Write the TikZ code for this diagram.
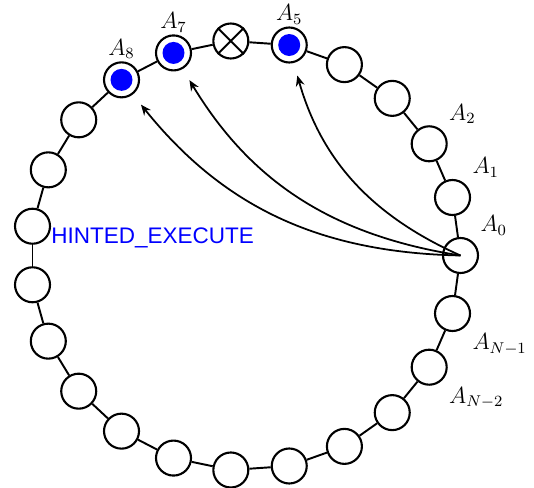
\documentclass[tikz,border=0pt]{standalone}
\usepackage{fontspec}
\newfontfamily\hintfont{Liberation Sans}
\usepackage{tikz}
\usetikzlibrary{arrows.meta, positioning, calc}
\definecolor{mBlue}{RGB}{0,0,255}

\tikzset{
  slot/.style={draw, circle, fill=white, line width=1.2pt, minimum size=0.7cm, inner sep=0pt},
  dot/.style={circle, fill=mBlue, minimum size=0.44cm, inner sep=0pt},
  link/.style={line width=1.1pt},
  jump/.style={-{Stealth[length=6pt, width=5pt]}, line width=1pt, shorten >=0.26cm},
  lab/.style={font=\large, scale=1.11},
  hint/.style={text=mBlue, inner sep=0pt, font=\hintfont\fontsize{12.8}{15}\selectfont}
}

\begin{document}
\begin{tikzpicture}
    \useasboundingbox (-4.91,-4.65) rectangle (5.77,5.11);
    % the ring of slots
    \foreach \i in {0,...,22}
      \node[slot] (p\i) at ({\i*360/23}:4.3) {};
    \foreach \i in {0,...,22} {
      \pgfmathtruncatemacro{\j}{mod(\i+1,23)}
      \draw[link] (p\i) -- (p\j);
    }
    % filled and crossed slots
    \foreach \i in {5,7,8}
      \node[dot] (d\i) at (p\i) {};
    \draw[link] (p6.45) -- (p6.225) (p6.135) -- (p6.-45);
    % labels
    \node[lab, anchor=south west] (l0) at (p0.north east) {$A_0$};
    \node[lab, anchor=south west] (l1) at (p1.north east) {$A_1$};
    \node[lab, anchor=south west] (l2) at (p2.north east) {$A_2$};
    \node[lab, anchor=south, inner sep=1pt] (l5) at (p5.north) {$A_5$};
    \node[lab, anchor=south, inner sep=1pt] (l7) at (p7.north) {$A_7$};
    \node[lab, anchor=south, inner sep=1pt] (l8) at (p8.north) {$A_8$};
    \node[lab, anchor=north west] (l22) at (p22.south east) {$A_{N-1}$};
    \node[lab, anchor=north west] (l21) at (p21.south east) {$A_{N-2}$};
    \node[hint, anchor=west] (hint) at ([yshift=-0.23cm]p11.east) {HINTED\_EXECUTE};
    % jumps from A0
    \foreach \t in {8,7,5}
      \draw[jump] (p0.center) to[bend left=25] (p\t);
\end{tikzpicture}
\end{document}
